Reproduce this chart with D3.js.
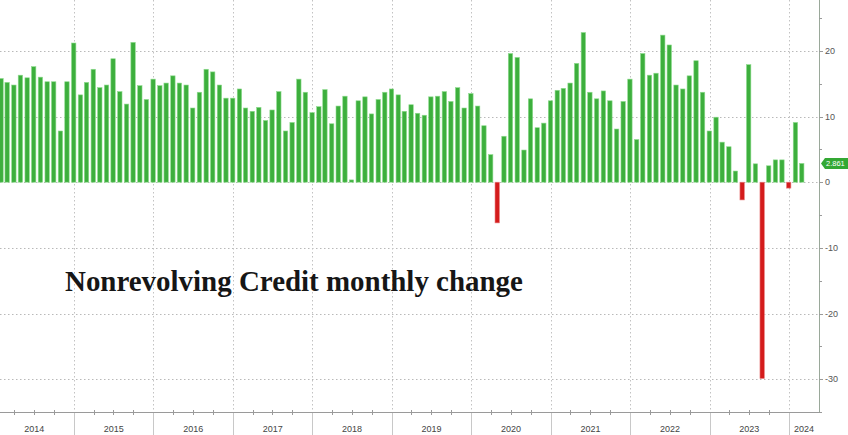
<!DOCTYPE html>
<html>
<head>
<meta charset="utf-8">
<script src="https://cdn.jsdelivr.net/npm/d3@7"></script>
<style>
  html, body { margin: 0; padding: 0; background: #fff; }
  svg { display: block; }
</style>
</head>
<body>
<svg id="chart" width="848" height="435"></svg>
<script>
// ---- data ----
const startMonth = "2014-01";
const endMonth = "2024-02";
const values = [
  15.8, 15.2, 14.8, 16.3, 15.9, 17.6, 16.0, 15.3, 15.3, 7.8, 15.3, 21.2,   // 2014
  13.3, 15.2, 17.2, 14.4, 14.8, 18.8, 13.8, 11.9, 21.3, 14.7, 12.6, 15.7,  // 2015
  14.7, 15.1, 16.2, 15.1, 14.8, 11.3, 13.7, 17.2, 16.8, 14.8, 12.8, 12.8,  // 2016
  14.2, 11.3, 10.8, 11.4, 9.4, 11.0, 13.8, 7.8, 9.1, 15.7, 13.7, 10.6,     // 2017
  11.5, 14.1, 8.9, 11.6, 13.1, 0.35, 12.4, 13.0, 10.4, 12.6, 13.7, 14.2,   // 2018
  13.3, 10.8, 11.8, 10.5, 10.2, 13.0, 13.1, 13.8, 12.3, 14.4, 11.3, 13.5,  // 2019
  11.6, 8.6, 4.2, -6.2, 7.0, 19.6, 19.0, 4.9, 12.7, 8.3, 9.0, 12.4,        // 2020
  14.0, 14.3, 15.1, 18.1, 22.8, 13.7, 12.7, 13.9, 12.4, 8.1, 12.3, 15.7,   // 2021
  6.5, 19.6, 16.3, 16.6, 22.4, 20.9, 14.8, 14.2, 16.2, 18.5, 13.7, 7.8,    // 2022
  9.9, 6.1, 5.4, 1.7, -2.7, 17.9, 2.8, -29.9, 2.5, 3.4, 3.4, -0.9,         // 2023
  9.1, 2.861                                                               // 2024
];
const yearLabels = ["2014","2015","2016","2017","2018","2019","2020","2021","2022","2023","2024"];
const yTicks = [20, 10, 0, -10, -20, -30];
const lastLabel = "2.861";
const title = "Nonrevolving Credit monthly change";

// ---- layout ----
const W = 848, H = 435;
const plotRight = 819, axisY = 412;
const parse = d3.timeParse("%Y-%m");
const months = d3.timeMonth.range(parse(startMonth), d3.timeMonth.offset(parse(endMonth), 1));
const data = months.map((m, i) => ({ date: m, value: values[i] }));

const svg = d3.select("#chart");
svg.append("rect").attr("width", W).attr("height", H).attr("fill", "#fff");

const x = d3.scaleTime()
  .domain([new Date(2014, 0, 1), new Date(2024, 0, 1)])
  .range([-5.4, 789]);
const y = d3.scaleLinear().domain([-35, 27.75]).range([axisY, 0]);

// horizontal gridlines
svg.append("g").selectAll("line").data(yTicks).join("line")
  .attr("x1", 0).attr("x2", plotRight)
  .attr("y1", d => Math.round(y(d)) + 0.5).attr("y2", d => Math.round(y(d)) + 0.5)
  .attr("stroke", "#b9b9b9").attr("stroke-width", 1).attr("stroke-dasharray", "1.5,2.5");

// year boundaries
const yearStarts = yearLabels.map(s => new Date(+s, 0, 1));
const boundaries = yearStarts.slice(1);
svg.append("g").selectAll("line").data(boundaries).join("line")
  .attr("x1", d => Math.round(x(d)) + 0.5).attr("x2", d => Math.round(x(d)) + 0.5)
  .attr("y1", 0).attr("y2", axisY)
  .attr("stroke", "#c2c2c2").attr("stroke-width", 1).attr("stroke-dasharray", "1.5,2.5");
svg.append("g").selectAll("line").data(boundaries).join("line")
  .attr("x1", d => Math.round(x(d)) + 0.5).attr("x2", d => Math.round(x(d)) + 0.5)
  .attr("y1", axisY).attr("y2", H)
  .attr("stroke", "#c8c8c8").attr("stroke-width", 1);

// bars
const barW = 4.4;
svg.append("g").selectAll("rect").data(data).join("rect")
  .attr("x", d => x(d3.timeMonth.offset(d.date, 1)) - barW / 2 - 0.3)
  .attr("width", barW)
  .attr("y", d => y(Math.max(0, d.value)))
  .attr("height", d => Math.abs(y(d.value) - y(0)))
  .attr("fill", d => d.value >= 0 ? "#3daf3d" : "#d41c1c")
  .attr("stroke", d => d.value >= 0 ? "#8fdc8f" : "#e88080")
  .attr("stroke-width", 0.6);

// bottom axis line
svg.append("line").attr("x1", 0).attr("x2", plotRight)
  .attr("y1", axisY + 0.5).attr("y2", axisY + 0.5)
  .attr("stroke", "#9a9a9a").attr("stroke-width", 1);
// quarter ticks
const quarters = d3.timeMonth.every(3).range(new Date(2014, 0, 1), new Date(2024, 3, 1))
  .filter(d => d.getMonth() !== 0 && x(d) < plotRight);
svg.append("g").selectAll("line").data(quarters).join("line")
  .attr("x1", d => Math.round(x(d)) + 0.5).attr("x2", d => Math.round(x(d)) + 0.5)
  .attr("y1", axisY - 2).attr("y2", axisY + 3)
  .attr("stroke", "#9a9a9a").attr("stroke-width", 1);

// year labels
svg.append("g").selectAll("text").data(yearLabels).join("text")
  .attr("x", (d, i) => {
    const a = x(new Date(+d, 0, 1));
    const b = Math.min(x(new Date(+d + 1, 0, 1)), plotRight);
    return (a + b) / 2;
  })
  .attr("y", 432)
  .attr("text-anchor", "middle")
  .attr("font-family", "Liberation Sans, Arial, sans-serif")
  .attr("font-size", 9)
  .attr("fill", "#444")
  .text(d => d);

// right axis
svg.append("line").attr("x1", plotRight + 0.5).attr("x2", plotRight + 0.5)
  .attr("y1", 0).attr("y2", axisY + 1)
  .attr("stroke", "#9aa89a").attr("stroke-width", 1);
const minorTicks = d3.range(-35, 28, 5);
svg.append("g").selectAll("line").data(minorTicks).join("line")
  .attr("x1", plotRight).attr("x2", d => plotRight + (d % 10 === 0 ? 4 : 3))
  .attr("y1", d => Math.round(y(d)) + 0.5).attr("y2", d => Math.round(y(d)) + 0.5)
  .attr("stroke", "#9a9a9a").attr("stroke-width", 1);
svg.append("g").selectAll("text").data(yTicks).join("text")
  .attr("x", plotRight + 6)
  .attr("y", d => y(d))
  .attr("dy", "0.35em")
  .attr("font-family", "Liberation Sans, Arial, sans-serif")
  .attr("font-size", 9)
  .attr("fill", "#555")
  .text(d => d);

// last value label
const last = data[data.length - 1];
const ly = y(last.value) - 18.5 + 18.5;
const lg = svg.append("g");
lg.append("path")
  .attr("d", `M${plotRight + 2},${ly} L${plotRight + 6},${ly - 5.5} L${W},${ly - 5.5} L${W},${ly + 5.5} L${plotRight + 6},${ly + 5.5} Z`)
  .attr("fill", "#34a834");
lg.append("text")
  .attr("x", plotRight + 7).attr("y", ly).attr("dy", "0.35em")
  .attr("font-family", "Liberation Sans, Arial, sans-serif")
  .attr("font-size", 7.5).attr("fill", "#fff")
  .text(lastLabel);

// title
const t = svg.append("text")
  .attr("x", 65).attr("y", 291)
  .attr("font-family", "Liberation Serif, Times New Roman, serif")
  .attr("font-weight", "bold")
  .attr("font-size", 27)
  .attr("fill", "#161616")
  .text(title);
const len = t.node().getComputedTextLength();
t.attr("font-size", 27 * 458 / len);
</script>
</body>
</html>
